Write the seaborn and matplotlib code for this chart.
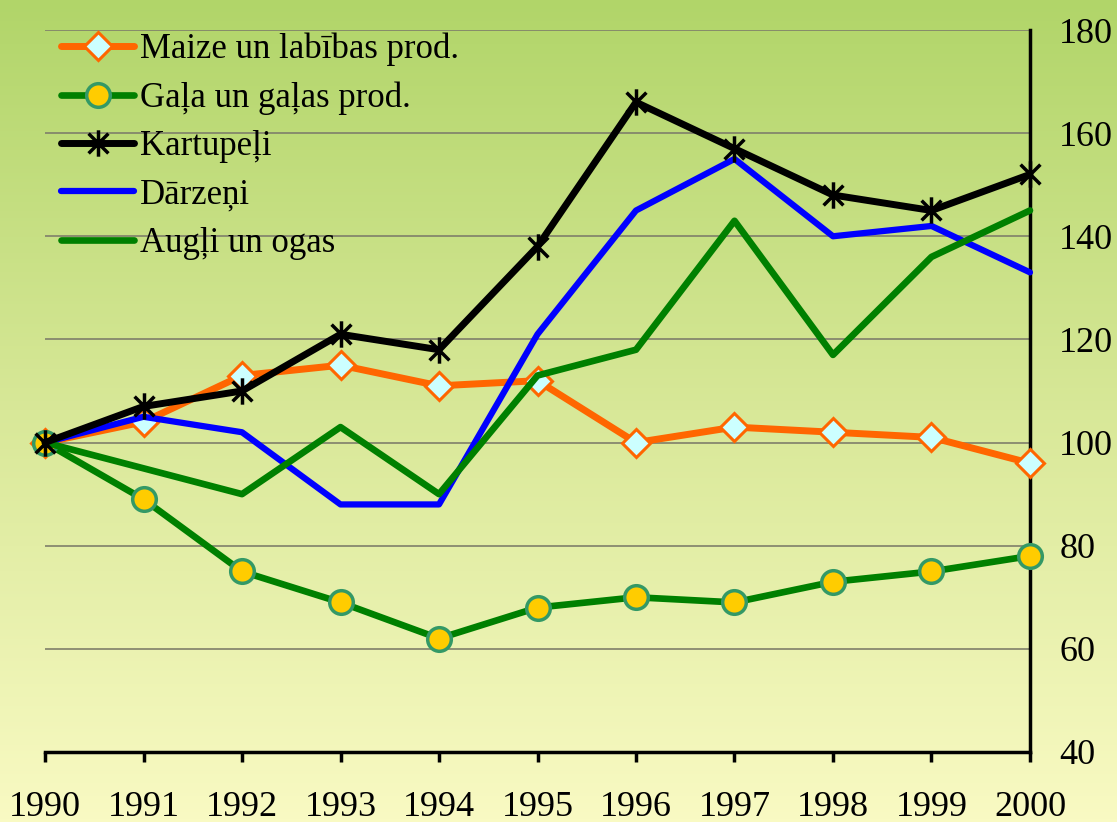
import numpy as np
import seaborn as sns
import matplotlib.pyplot as plt
from matplotlib.path import Path
from matplotlib.colors import LinearSegmentedColormap

years = [1990, 1991, 1992, 1993, 1994, 1995, 1996, 1997, 1998, 1999, 2000]
maize = [100, 104, 113, 115, 111, 112, 100, 103, 102, 101, 96]
gala = [100, 89, 75, 69, 62, 68, 70, 69, 73, 75, 78]
kartupeli = [100, 107, 110, 121, 118, 138, 166, 157, 148, 145, 152]
darzeni = [100, 105, 102, 88, 88, 121, 145, 155, 140, 142, 133]
augli = [100, 95, 90, 103, 90, 113, 118, 143, 117, 136, 145]
y_ticks = [40, 60, 80, 100, 120, 140, 160, 180]

sns.set_theme(style="white")
plt.rcParams['font.family'] = ['Liberation Serif', 'DejaVu Serif']
plt.rcParams['text.color'] = 'black'
plt.rcParams['xtick.color'] = 'black'
plt.rcParams['ytick.color'] = 'black'

fig = plt.figure(figsize=(11.17, 8.22), dpi=100)

# background gradient for the whole figure
bg = fig.add_axes([0, 0, 1, 1], zorder=0)
cmap = LinearSegmentedColormap.from_list("bg", ["#b1d569", "#d8e898", "#f9fac3"])
bg.imshow(np.linspace(0, 1, 256).reshape(-1, 1), aspect="auto", cmap=cmap, extent=[0, 1, 0, 1])
bg.axis("off")

ax = fig.add_axes([0.0403, 0.0852, 0.8818, 0.8783], zorder=1)
ax.patch.set_alpha(0)

# asterisk marker: vertical bar plus an X
ast = Path([(0, -1), (0, 1), (-0.75, -0.75), (0.75, 0.75), (-0.75, 0.75), (0.75, -0.75)],
           [Path.MOVETO, Path.LINETO, Path.MOVETO, Path.LINETO, Path.MOVETO, Path.LINETO])

sns.lineplot(x=years, y=maize, ax=ax, color="#ff6600", linewidth=5, marker="D",
             markersize=14, markerfacecolor="#ccffff", markeredgecolor="#ff6600",
             markeredgewidth=2.2, label="Maize un labības prod.", clip_on=False, zorder=3)
sns.lineplot(x=years, y=gala, ax=ax, color="#008000", linewidth=4.8, marker="o",
             markersize=17, markerfacecolor="#ffcc00", markeredgecolor="#339966",
             markeredgewidth=2.5, label="Gaļa un gaļas prod.", clip_on=False, zorder=3)
sns.lineplot(x=years, y=kartupeli, ax=ax, color="black", linewidth=5, marker=ast,
             markersize=19, markeredgecolor="black", markeredgewidth=2.5,
             label="Kartupeļi", clip_on=False, zorder=4)
sns.lineplot(x=years, y=darzeni, ax=ax, color="#0000ff", linewidth=4.5,
             label="Dārzeņi", clip_on=False, zorder=3)
sns.lineplot(x=years, y=augli, ax=ax, color="#008000", linewidth=4.8,
             label="Augļi un ogas", clip_on=False, zorder=3)

ax.set_xlim(1990, 2000)
ax.set_ylim(40, 180)
ax.set_xticks(years)
ax.set_yticks(y_ticks)
ax.yaxis.tick_right()
ax.grid(axis="y", color="#7f7f6a", linewidth=1.2)
ax.grid(axis="x", visible=False)
for s in ["left", "top"]:
    ax.spines[s].set_visible(False)
for s in ["right", "bottom"]:
    ax.spines[s].set_color("black")
    ax.spines[s].set_linewidth(2.5)
ax.tick_params(axis="x", direction="out", length=7, width=2.5, color="black",
               pad=21, labelsize=26, bottom=True)
ax.tick_params(axis="y", length=0, pad=21, labelsize=26, right=True)
ax.set_xlabel("")
ax.set_ylabel("")

ax.legend(loc="upper left", bbox_to_anchor=(-0.008, 1.03), frameon=False, fontsize=25,
          handlelength=2.1, labelspacing=0.44, handletextpad=0.15, borderaxespad=0.3)

fig.savefig("out.png", dpi=100)
